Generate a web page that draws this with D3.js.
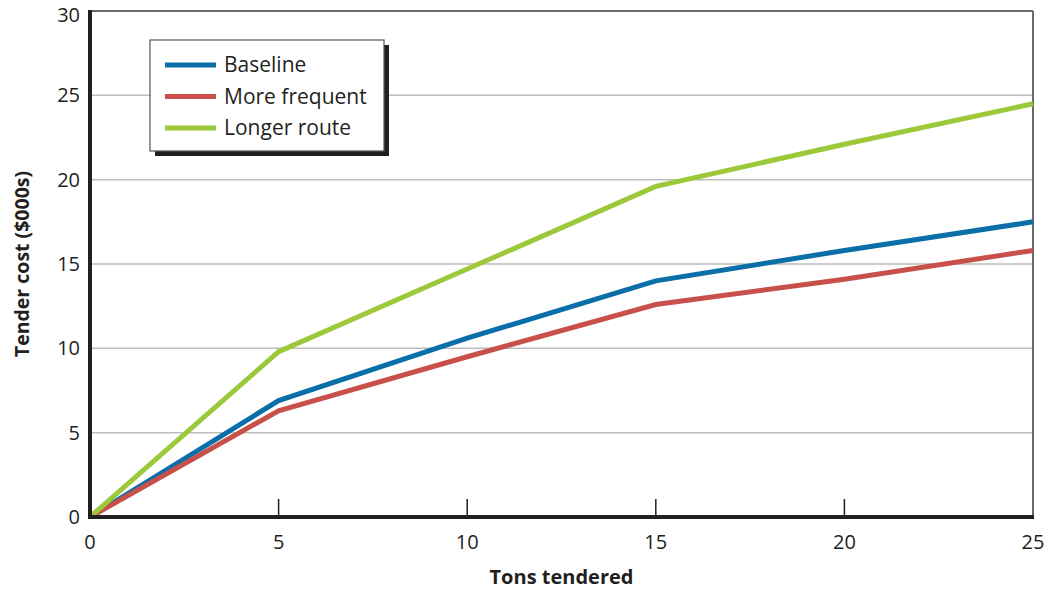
<!DOCTYPE html>
<html><head><meta charset="utf-8">
<script src="https://cdn.jsdelivr.net/npm/d3@7"></script>
<style>body{margin:0;background:#fff}svg{font-family:"Open Sans","Noto Sans",sans-serif}</style>
</head><body><svg id="c" width="1047" height="591"></svg>
<script>
const tons = [0, 5, 10, 15, 20, 25];
const baseline = [0, 6.9, 10.6, 14.0, 15.8, 17.5];
const moreFrequent = [0, 6.3, 9.5, 12.6, 14.1, 15.8];
const longerRoute = [0, 9.8, 14.7, 19.6, 22.1, 24.5];
const seriesNames = ["Baseline", "More frequent", "Longer route"];
const colors = ["#0a6fa8", "#c8504b", "#9bc93a"];
const yTicks = [0, 5, 10, 15, 20, 25, 30];
const xTicks = [0, 5, 10, 15, 20, 25];

const svg = d3.select("#c");
const L = 90, R = 1033, T = 11, B = 517;
const x = d3.scaleLinear().domain([0, 25]).range([L, R]);
const y = d3.scaleLinear().domain([0, 30]).range([B, T]);

// gridlines
svg.append("g").selectAll("line").data(yTicks.filter(d => d > 0)).join("line")
  .attr("x1", L).attr("x2", R).attr("y1", d => y(d)).attr("y2", d => y(d))
  .attr("stroke", d => d === 30 ? "#6b6b6b" : "#bdbdbd").attr("stroke-width", d => d === 30 ? 2 : 1.5);
// right border
svg.append("line").attr("x1", R).attr("x2", R).attr("y1", T).attr("y2", B)
  .attr("stroke", "#6b6b6b").attr("stroke-width", 2);

// x ticks (inward)
svg.append("g").selectAll("line").data(xTicks.filter(d => d > 0 && d < 25)).join("line")
  .attr("x1", d => x(d)).attr("x2", d => x(d)).attr("y1", B).attr("y2", B - 18)
  .attr("stroke", "#231f20").attr("stroke-width", 1.5);

// series
const series = [baseline, moreFrequent, longerRoute];
const line = d3.line().x((d, i) => x(tons[i])).y(d => y(d));
series.forEach((s, k) => {
  svg.append("path").datum(s).attr("d", line).attr("fill", "none")
    .attr("stroke", colors[k]).attr("stroke-width", 5).attr("stroke-linejoin", "miter");
});

// axes lines
svg.append("line").attr("x1", L).attr("x2", L).attr("y1", T - 1).attr("y2", B + 2)
  .attr("stroke", "#231f20").attr("stroke-width", 4);
svg.append("line").attr("x1", L - 2).attr("x2", R + 1).attr("y1", B).attr("y2", B)
  .attr("stroke", "#231f20").attr("stroke-width", 4);

// tick labels
svg.append("g").selectAll("text").data(yTicks).join("text")
  .attr("x", L - 10).attr("y", d => Math.max(y(d), 15)).attr("dy", "0.35em").attr("text-anchor", "end")
  .attr("font-size", 20).attr("fill", "#231f20").text(d => d);
svg.append("g").selectAll("text").data(xTicks).join("text")
  .attr("x", d => x(d)).attr("y", B + 32).attr("text-anchor", "middle")
  .attr("font-size", 20).attr("fill", "#231f20").text(d => d);

// axis titles
svg.append("text").attr("x", (L + R) / 2).attr("y", 584).attr("text-anchor", "middle")
  .attr("font-size", 20).attr("font-weight", "bold").attr("fill", "#231f20").text("Tons tendered");
svg.append("text").attr("transform", `translate(29,${(T + B) / 2}) rotate(-90)`).attr("text-anchor", "middle")
  .attr("font-size", 19.5).attr("font-weight", "bold").attr("fill", "#231f20").text("Tender cost ($000s)");

// legend
const lg = svg.append("g");
lg.append("rect").attr("x", 155).attr("y", 45).attr("width", 234).attr("height", 111).attr("fill", "#231f20");
lg.append("rect").attr("x", 150).attr("y", 40).attr("width", 234).attr("height", 111)
  .attr("fill", "#fff").attr("stroke", "#555").attr("stroke-width", 1.2);
seriesNames.forEach((n, i) => {
  const yy = 65 + i * 31.5;
  lg.append("line").attr("x1", 165).attr("x2", 216).attr("y1", yy).attr("y2", yy)
    .attr("stroke", colors[i]).attr("stroke-width", 5);
  lg.append("text").attr("x", 224).attr("y", yy).attr("dy", "0.35em")
    .attr("font-size", 21).attr("fill", "#231f20").text(n);
});
</script></body></html>
